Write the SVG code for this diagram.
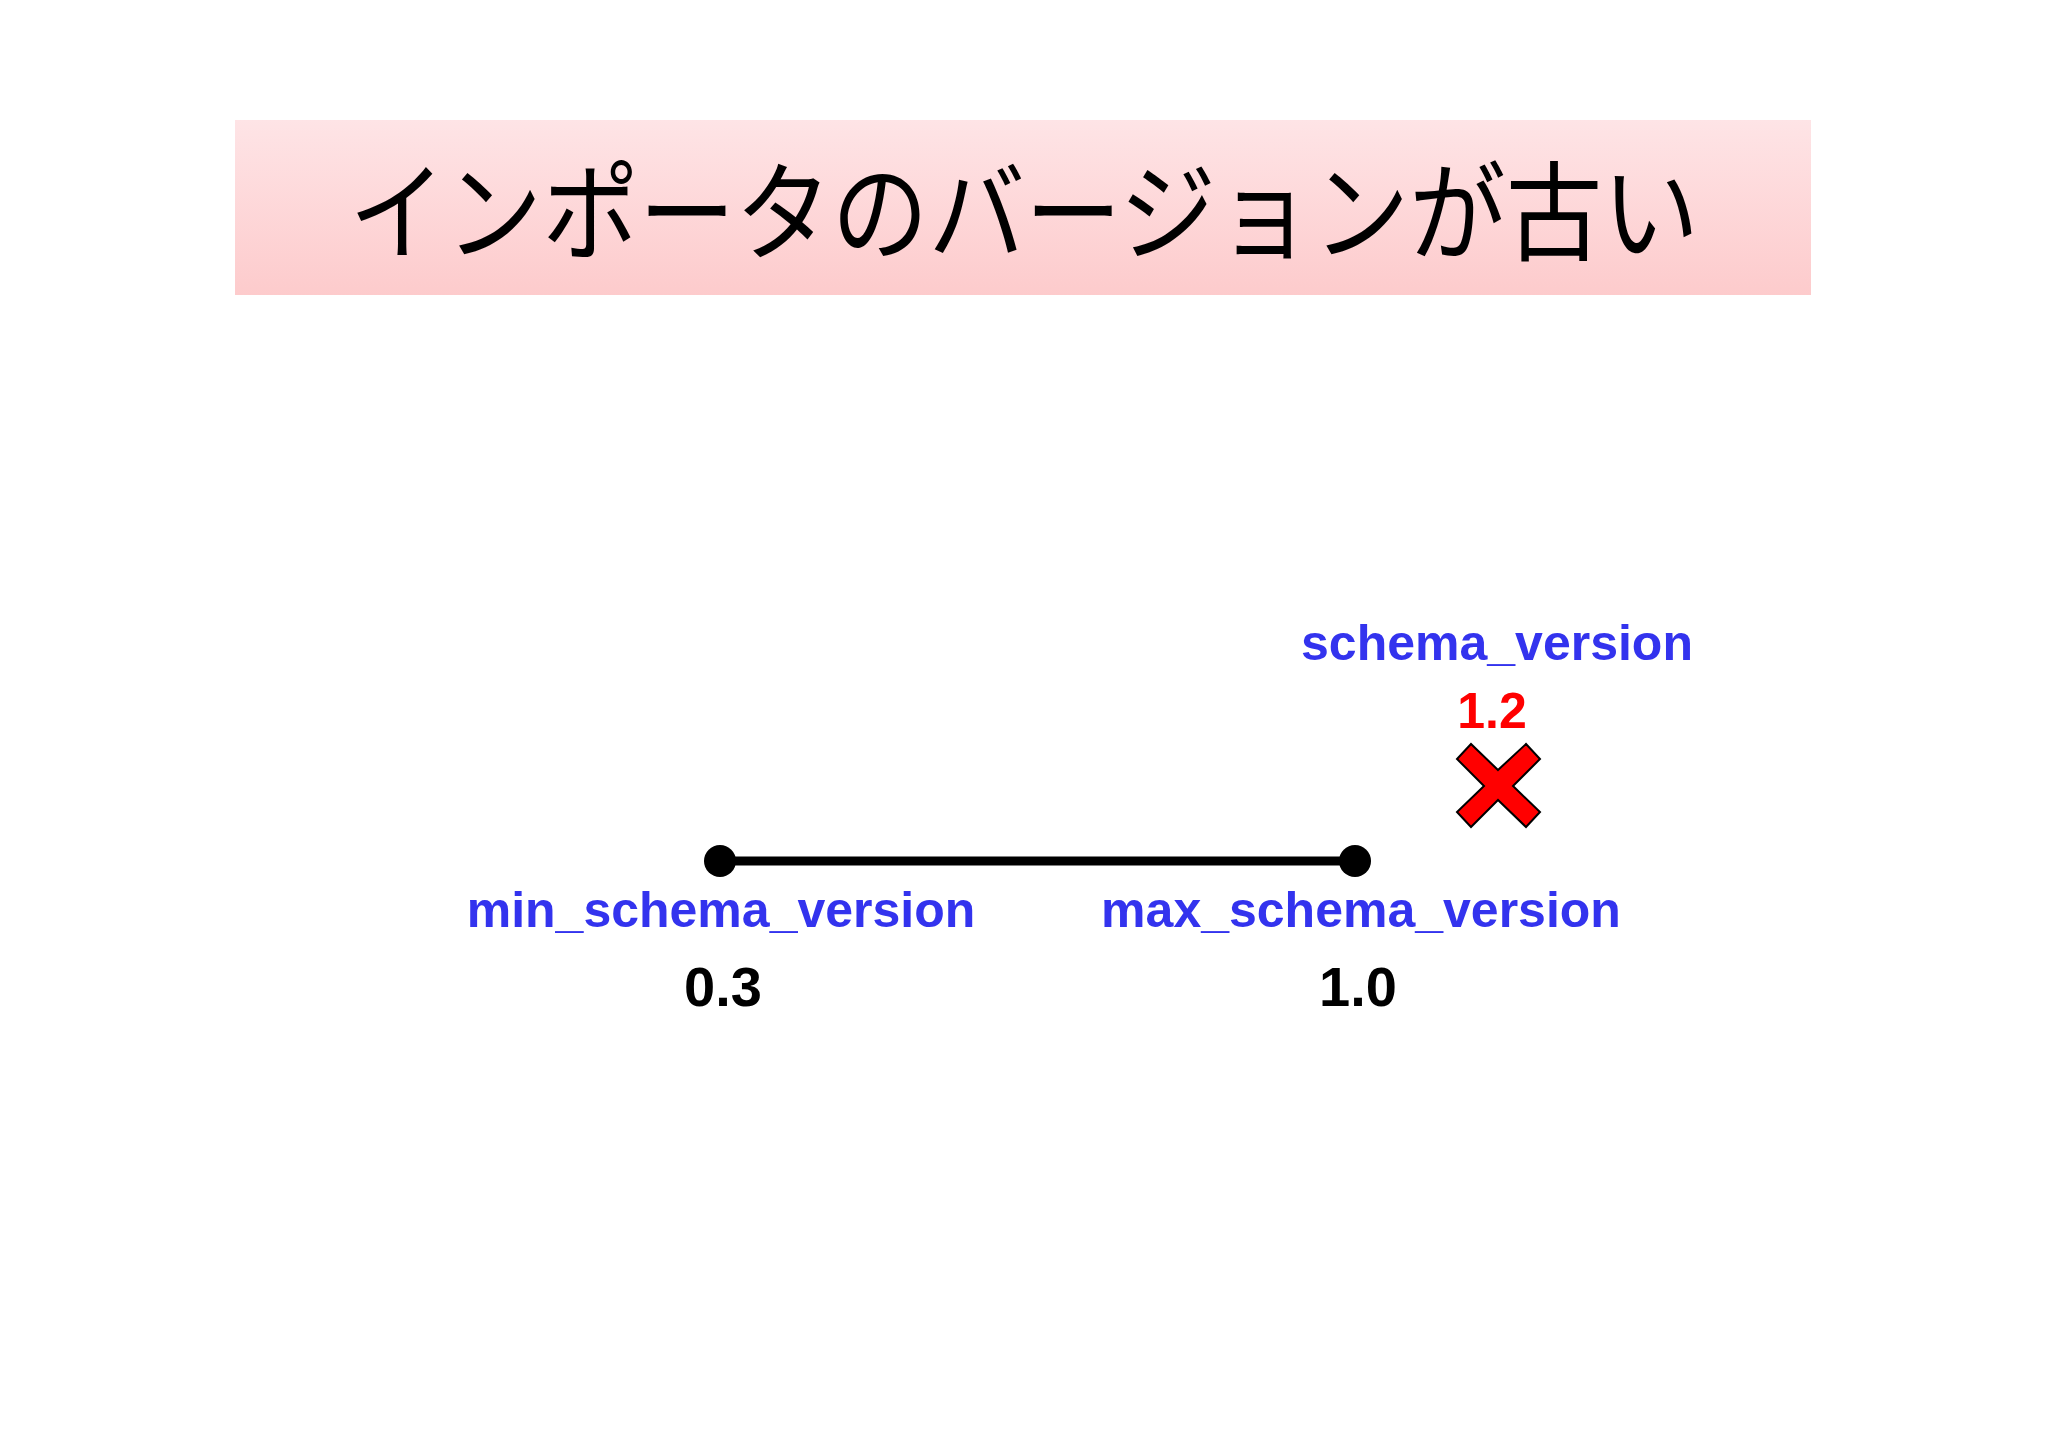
<svg xmlns="http://www.w3.org/2000/svg" width="2048" height="1448" viewBox="0 0 2048 1448">
<defs>
<linearGradient id="g" x1="0" y1="0" x2="0" y2="1"><stop offset="0" stop-color="#fee4e6"/><stop offset="1" stop-color="#fdcbcc"/></linearGradient>
<style>
.lb{font-family:"Liberation Sans",Arial,sans-serif;font-weight:bold;fill:#3333ee;font-size:50px;text-anchor:middle}
.num{font-family:"Liberation Sans",Arial,sans-serif;font-weight:bold;fill:#000;font-size:56px;text-anchor:middle}
</style>
</defs>
<rect width="2048" height="1448" fill="#fff"/>
<g id="title">
<rect x="235" y="120" width="1576" height="175" fill="url(#g)"/>
<text x="1024" y="252" font-family="'Noto Sans CJK JP',sans-serif" font-size="108" text-anchor="middle" textLength="1350" lengthAdjust="spacingAndGlyphs">インポータのバージョンが古い</text>
</g>
<g id="connectors">
<line x1="720" y1="861" x2="1355" y2="861" stroke="#000" stroke-width="9"/>
</g>
<g id="min">
<circle cx="720" cy="861" r="16"/>
<text class="lb" x="721" y="927">min_schema_version</text>
<text class="num" x="723" y="1006">0.3</text>
</g>
<g id="max">
<circle cx="1355" cy="861" r="16"/>
<text class="lb" x="1361" y="927">max_schema_version</text>
<text class="num" x="1358" y="1006">1.0</text>
</g>
<g id="current">
<text class="lb" x="1497" y="660">schema_version</text>
<text class="num" x="1492" y="728" fill="#f00" style="fill:#ff0000;font-size:50px">1.2</text>
<polygon points="1498,770 1526,744 1540,759 1513,786 1540,812 1526,827 1498,800 1471,827 1457,812 1484,786 1457,759 1471,744" fill="#ff0000" stroke="#000" stroke-width="2"/>
</g>
</svg>
